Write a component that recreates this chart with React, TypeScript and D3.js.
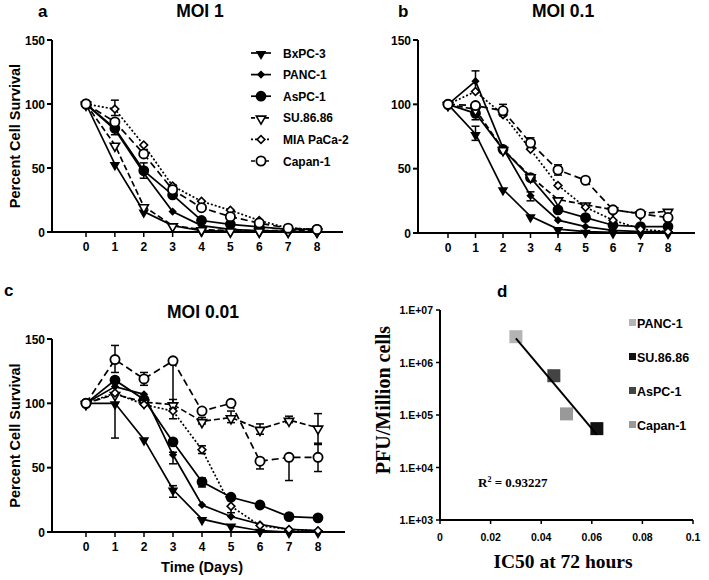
import React from 'react';
import * as d3 from 'd3';

// ---------- DATA ----------
const days = [0, 1, 2, 3, 4, 5, 6, 7, 8];
const cellLines = ['BxPC-3', 'PANC-1', 'AsPC-1', 'SU.86.86', 'MIA PaCa-2', 'Capan-1'];

// Panel a: MOI 1
const moi1BxPC3 = [100, 53, 16, 5, 1, 0.5, 0, 0, 0];
const moi1PANC1 = [100, 80, 46, 16, 5, 2, 1, 0.5, 0];
const moi1AsPC1 = [100, 81, 48, 29, 9, 6, 4, 2, 2];
const moi1SU8686 = [100, 68, 20, 5, 2, 1, 1, 1, 1];
const moi1MIAPaCa2 = [100, 96, 68, 36, 24, 17, 9, 3, 2];
const moi1Capan1 = [100, 86, 61, 33, 19, 12, 7, 3, 2];

// Panel b: MOI 0.1
const moi01BxPC3 = [100, 77, 34, 13, 3, 1, 0.5, 0, 0];
const moi01PANC1 = [100, 118, 66, 29, 10, 5, 2, 1, 1];
const moi01AsPC1 = [100, 93, 65, 43, 18, 12, 6, 5, 5];
const moi01SU8686 = [100, 96, 65, 44, 26, 22, 18, 15, 17];
const moi01MIAPaCa2 = [100, 110, 92, 65, 37, 20, 10, 3, 1];
const moi01Capan1 = [100, 99, 95, 70, 49, 41, 18, 15, 12];

// Panel c: MOI 0.01
const moi001BxPC3 = [100, 100, 72, 33, 10, 5, 1, 0, 0];
const moi001PANC1 = [100, 113, 107, 60, 21, 12, 6, 2, 1];
const moi001AsPC1 = [100, 118, 103, 70, 39, 27, 21, 12, 11];
const moi001SU8686 = [100, 107, 101, 99, 86, 89, 80, 87, 81];
const moi001MIAPaCa2 = [100, 108, 99, 94, 64, 20, 5, 2, 1];
const moi001Capan1 = [100, 134, 119, 133, 94, 100, 55, 58, 58];

// Error bars: [series index, day, low, high]
const errorsMoi1 = [
  [4, 1, 91, 103], [2, 2, 42, 54], [5, 3, 30, 37], [2, 1, 76, 86],
];
const errorsMoi01 = [
  [1, 1, 110, 126], [0, 1, 72, 83], [5, 2, 91, 100], [5, 3, 66, 74],
  [5, 4, 45, 53], [1, 3, 25, 32], [2, 1, 88, 98],
];
const errorsMoi001 = [
  [5, 1, 124, 145], [3, 1, 73, 120], [5, 2, 114, 124], [5, 3, 88, 133],
  [3, 3, 96, 103], [4, 4, 61, 67], [3, 4, 84, 89], [3, 5, 85, 94],
  [5, 6, 49, 57], [3, 6, 76, 84], [5, 7, 40, 58], [3, 7, 85, 90],
  [5, 8, 47, 68], [3, 8, 69, 92], [2, 4, 35, 42], [1, 3, 53, 62],
  [0, 3, 27, 36], [4, 5, 15, 25],
];

const survivalTicks = [0, 50, 100, 150];

// Panel d
const dLines = ['PANC-1', 'SU.86.86', 'AsPC-1', 'Capan-1'];
const dIC50 = [0.030, 0.062, 0.045, 0.050];
const dPFU = [3.1e6, 5.5e4, 5.6e5, 1.05e5];
const dXTicks = [0, 0.02, 0.04, 0.06, 0.08, 0.1];
const dXTickLabels = ['0', '0.02', '0.04', '0.06', '0.08', '0.1'];
const dYTicks = [1e3, 1e4, 1e5, 1e6, 1e7];
const dYTickLabels = ['1.E+03', '1.E+04', '1.E+05', '1.E+06', '1.E+07'];
const dRSquared = '0.93227';

// ---------- STYLES ----------
const seriesStyle = [
  { marker: 'triDown', fill: '#000', dash: null, size: 26 },
  { marker: 'diamond', fill: '#000', dash: null, size: 18 },
  { marker: 'circle', fill: '#000', dash: null, size: 4.5 },
  { marker: 'triDown', fill: '#fff', dash: '6,3', size: 38 },
  { marker: 'diamond', fill: '#fff', dash: '2,2', size: 30 },
  { marker: 'circle', fill: '#fff', dash: '7,4', size: 4.6 },
];
const dColors = ['#b4b4b4', '#111111', '#444444', '#999999'];

const SANS = 'Liberation Sans, Arial, sans-serif';
const SERIF = 'Liberation Serif, Times New Roman, serif';

function Marker({ x, y, style }: any) {
  if (style.marker === 'circle') {
    return <circle cx={x} cy={y} r={style.size} fill={style.fill} stroke="#000" strokeWidth={1.8} />;
  }
  if (style.marker === 'triDown') {
    const p = d3.symbol(d3.symbolTriangle, style.size)() as string;
    return <path d={p} transform={`translate(${x},${y + 1}) rotate(180)`} fill={style.fill} stroke="#000" strokeWidth={1.6} />;
  }
  const p = d3.symbol(d3.symbolSquare, style.size)() as string;
  return <path d={p} transform={`translate(${x},${y}) rotate(45)`} fill={style.fill} stroke="#000" strokeWidth={1.6} />;
}

function SurvivalPanel({ g, series, errors, title, titleX, titleY, letter, letterX, letterY, yLabel, xLabel, legend }: any) {
  const x = d3.scaleLinear().domain([0, 8]).range([g.x0, g.x8]);
  const y = d3.scaleLinear().domain([0, 150]).range([g.yBot, g.yTop]);
  const line = d3.line<number>().x((_, i) => x(days[i])).y((v) => y(v));
  return (
    <g>
      <text x={letterX} y={letterY} fontFamily={SANS} fontWeight="bold" fontSize={17}>{letter}</text>
      <text x={titleX} y={titleY} fontFamily={SANS} fontWeight="bold" fontSize={17.5} textAnchor="middle">{title}</text>
      {/* axes */}
      <line x1={g.yAxisX} x2={g.yAxisX} y1={g.yTop} y2={g.yBot} stroke="#000" strokeWidth={2} />
      <line x1={g.yAxisX} x2={g.xEnd} y1={g.yBot} y2={g.yBot} stroke="#000" strokeWidth={2} />
      {survivalTicks.map((t) => (
        <g key={t}>
          <line x1={g.yAxisX - 5} x2={g.yAxisX} y1={y(t)} y2={y(t)} stroke="#000" strokeWidth={2} />
          <text x={g.yAxisX - 7} y={y(t) + 4.5} textAnchor="end" fontFamily={SANS} fontWeight="bold" fontSize={12}>{t}</text>
        </g>
      ))}
      {days.map((dd) => (
        <g key={dd}>
          <line x1={x(dd)} x2={x(dd)} y1={g.yBot} y2={g.yBot + 5} stroke="#000" strokeWidth={1.5} />
          <text x={x(dd)} y={g.yBot + 19} textAnchor="middle" fontFamily={SANS} fontWeight="bold" fontSize={12}>{dd}</text>
        </g>
      ))}
      {yLabel && (
        <text transform={`translate(${g.yLabelX},${(g.yTop + g.yBot) / 2}) rotate(-90)`} textAnchor="middle" fontFamily={SANS} fontWeight="bold" fontSize={14.5}>{yLabel}</text>
      )}
      {xLabel && (
        <text x={(g.x0 + g.x8) / 2} y={g.yBot + 40} textAnchor="middle" fontFamily={SANS} fontWeight="bold" fontSize={14.5}>{xLabel}</text>
      )}
      {/* lines */}
      {series.map((vals: number[], si: number) => (
        <path key={si} d={line(vals) as string} fill="none" stroke="#000" strokeWidth={1.7} strokeDasharray={seriesStyle[si].dash || undefined} />
      ))}
      {/* error bars */}
      {errors.map((e: number[], i: number) => {
        const xx = x(e[1]);
        return (
          <g key={i} stroke="#000" strokeWidth={1.5}>
            <line x1={xx} x2={xx} y1={y(e[2])} y2={y(e[3])} />
            <line x1={xx - 4} x2={xx + 4} y1={y(e[2])} y2={y(e[2])} />
            <line x1={xx - 4} x2={xx + 4} y1={y(e[3])} y2={y(e[3])} />
          </g>
        );
      })}
      {/* markers */}
      {series.map((vals: number[], si: number) =>
        vals.map((v, i) => <Marker key={`${si}-${i}`} x={x(days[i])} y={y(v)} style={seriesStyle[si]} />)
      )}
      {legend && cellLines.map((name, i) => {
        const ly = legend.y0 + i * legend.dy;
        const st = seriesStyle[i];
        return (
          <g key={name}>
            <line x1={legend.x} x2={legend.x + 20} y1={ly} y2={ly} stroke="#000" strokeWidth={1.7} strokeDasharray={st.dash ? (st.dash === '2,2' ? '2,2' : '4,3') : undefined} />
            <Marker x={legend.x + 10} y={ly} style={st} />
            <text x={legend.x + 32} y={ly + 4.5} fontFamily={SANS} fontWeight="bold" fontSize={12}>{name}</text>
          </g>
        );
      })}
    </g>
  );
}

function PanelD() {
  const x = d3.scaleLinear().domain([0, 0.1]).range([440, 693]);
  const y = d3.scaleLog().domain([1e3, 1e7]).range([520, 310]);
  // least-squares fit of log10(PFU) vs IC50
  const lx = dIC50;
  const ly = dPFU.map((v) => Math.log10(v));
  const mx = d3.mean(lx) as number;
  const my = d3.mean(ly) as number;
  const sxy = d3.sum(lx.map((v, i) => (v - mx) * (ly[i] - my)));
  const sxx = d3.sum(lx.map((v) => (v - mx) ** 2));
  const slope = sxy / sxx;
  const icpt = my - slope * mx;
  const xa = d3.min(lx) as number;
  const xb = d3.max(lx) as number;
  return (
    <g>
      <text x={497} y={297} fontFamily={SANS} fontWeight="bold" fontSize={17}>d</text>
      <line x1={440} x2={440} y1={310} y2={520} stroke="#000" strokeWidth={2} />
      <line x1={440} x2={693} y1={520} y2={520} stroke="#000" strokeWidth={2} />
      {dYTicks.map((t, i) => (
        <g key={t}>
          <line x1={436} x2={440} y1={y(t)} y2={y(t)} stroke="#000" strokeWidth={1.5} />
          <text x={433} y={y(t) + 4} textAnchor="end" fontFamily={SANS} fontWeight="bold" fontSize={10.5}>{dYTickLabels[i]}</text>
        </g>
      ))}
      {dXTicks.map((t, i) => (
        <g key={t}>
          <line x1={x(t)} x2={x(t)} y1={520} y2={524} stroke="#000" strokeWidth={1.5} />
          <text x={x(t)} y={541} textAnchor="middle" fontFamily={SANS} fontWeight="bold" fontSize={10.5}>{dXTickLabels[i]}</text>
        </g>
      ))}
      <text transform={`translate(390,${400}) rotate(-90)`} textAnchor="middle" fontFamily={SERIF} fontWeight="bold" fontSize={20}>PFU/Million cells</text>
      <text x={563} y={568} textAnchor="middle" fontFamily={SERIF} fontWeight="bold" fontSize={19.5}>IC50 at 72 hours</text>
      {dIC50.map((v, i) => (
        <rect key={i} x={x(v) - 6.5} y={y(dPFU[i]) - 6.5} width={13} height={13} fill={dColors[i]} />
      ))}
      <line x1={x(xa)} y1={y(10 ** (icpt + slope * xa))} x2={x(xb)} y2={y(10 ** (icpt + slope * xb))} stroke="#000" strokeWidth={2} />
      <text x={478} y={487} fontFamily={SERIF} fontWeight="bold" fontSize={13}>
        R<tspan dy={-5} fontSize={8}>2</tspan><tspan dy={5}> = {dRSquared}</tspan>
      </text>
      {dLines.map((n, i) => (
        <g key={n}>
          <rect x={629} y={319 + i * 34} width={7} height={7} fill={dColors[i]} />
          <text x={637} y={327.5 + i * 34} fontFamily={SANS} fontWeight="bold" fontSize={12.5}>{n}</text>
        </g>
      ))}
    </g>
  );
}

export default function App() {
  const seriesA = [moi1BxPC3, moi1PANC1, moi1AsPC1, moi1SU8686, moi1MIAPaCa2, moi1Capan1];
  const seriesB = [moi01BxPC3, moi01PANC1, moi01AsPC1, moi01SU8686, moi01MIAPaCa2, moi01Capan1];
  const seriesC = [moi001BxPC3, moi001PANC1, moi001AsPC1, moi001SU8686, moi001MIAPaCa2, moi001Capan1];
  return (
    <svg width={709} height={580} style={{ position: 'absolute', left: 0, top: 0, background: '#fff' }}>
      <rect width={709} height={580} fill="#fff" />
      <SurvivalPanel
        g={{ yAxisX: 52, xEnd: 343, x0: 86, x8: 317, yTop: 40, yBot: 232, yLabelX: 20 }}
        series={seriesA} errors={errorsMoi1} title="MOI 1" titleX={200} titleY={17}
        letter="a" letterX={38} letterY={17} yLabel="Percent Cell Survival"
        legend={{ x: 251, y0: 53, dy: 21.6 }}
      />
      <SurvivalPanel
        g={{ yAxisX: 418, xEnd: 695, x0: 448, x8: 668, yTop: 40, yBot: 233, yLabelX: 0 }}
        series={seriesB} errors={errorsMoi01} title="MOI 0.1" titleX={563} titleY={17}
        letter="b" letterX={398} letterY={17}
      />
      <SurvivalPanel
        g={{ yAxisX: 52, xEnd: 345, x0: 86, x8: 318, yTop: 339, yBot: 532, yLabelX: 20 }}
        series={seriesC} errors={errorsMoi001} title="MOI 0.01" titleX={203} titleY={318}
        letter="c" letterX={4} letterY={296} yLabel="Percent Cell Survival" xLabel="Time (Days)"
      />
      <PanelD />
    </svg>
  );
}
